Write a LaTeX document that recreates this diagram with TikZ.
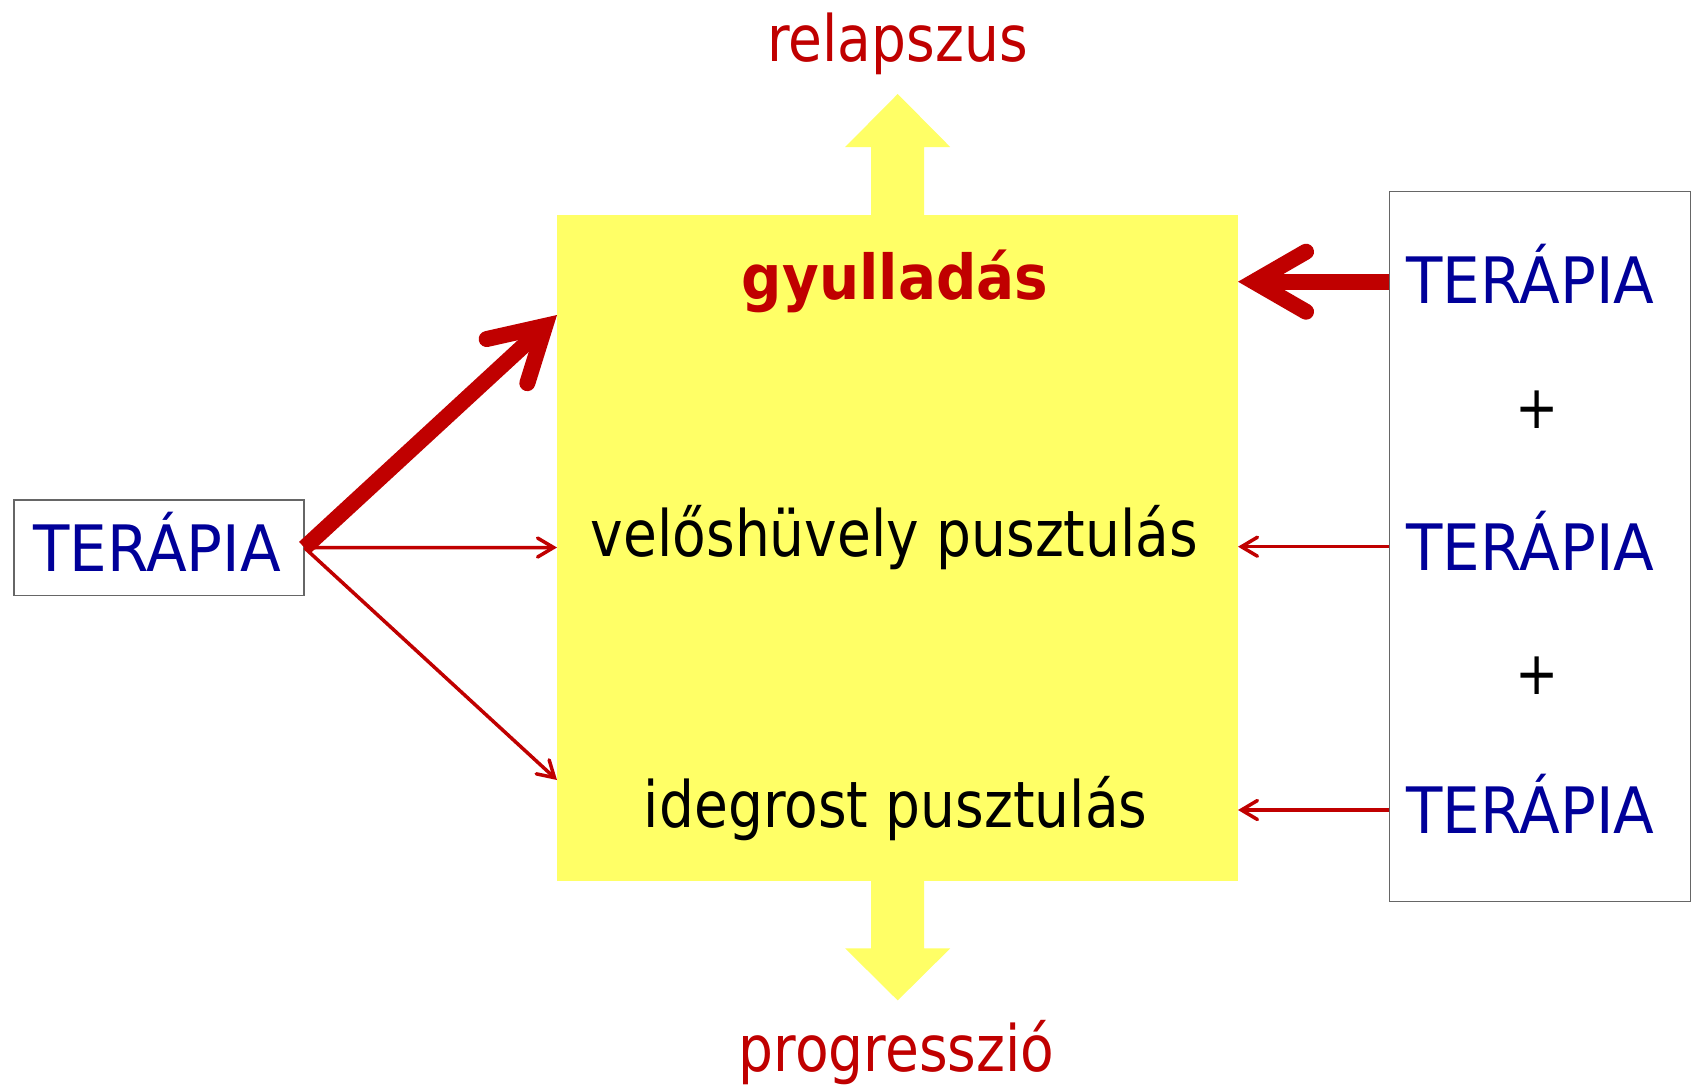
\documentclass[tikz,border=0pt]{standalone}
\usepackage{fontspec}
\setmainfont{DejaVu Sans}
\newfontfamily\lowfont[FakeStretch=0.86]{DejaVu Sans}
\newfontfamily\capfont[FakeStretch=0.93]{DejaVu Sans}
\newfontfamily\boldfont[FakeStretch=0.91]{DejaVu Sans}
\usetikzlibrary{arrows.meta}
\definecolor{dred}{HTML}{C00000}
\definecolor{dblue}{HTML}{000099}
\definecolor{yel}{HTML}{FFFF66}
\begin{document}
\begin{tikzpicture}[x=1bp,y=-1bp,
  lowtxt/.style={font=\lowfont\fontsize{64bp}{70bp}\selectfont, inner sep=0, anchor=base},
  captxt/.style={font=\capfont\fontsize{64bp}{70bp}\selectfont, text=dblue, inner sep=0, anchor=base},
  boldtxt/.style={font=\boldfont\bfseries\fontsize{62bp}{68bp}\selectfont, text=dred, inner sep=0, anchor=base},
  plustxt/.style={font=\lowfont\fontsize{60bp}{66bp}\selectfont, inner sep=0, anchor=center},
  frame/.style={draw=black!60, line width=1.2bp, inner sep=0, anchor=north west},
  thickarr/.style={draw=dred, line width=16bp, -{Straight Barb[length=52bp,width=60bp,line cap=round]}},
  thinarr/.style={draw=dred, line width=3.5bp, -{Straight Barb[length=16bp,width=19bp,line cap=round]}},
]
\useasboundingbox (0,0) rectangle (1691,1088);
\fill[white] (0,0) rectangle (1691,1088);

% main yellow box
\node[fill=yel, inner sep=0, minimum width=681bp, minimum height=666bp, anchor=north west] (Y) at (557,215) {};
% side boxes
\node[frame, minimum width=290bp, minimum height=95.7bp] (L) at (13.3,499.3) {};
\node[frame, minimum width=301bp, minimum height=709.6bp] (R) at (1389,191) {};

% yellow fat arrows
\fill[yel] (Y.north) ++(-26.5,1) -- ++(0,-69) -- ++(-26,0) -- ++(52.5,-53) -- ++(52.5,53) -- ++(-26,0) -- ++(0,69) -- cycle;
\fill[yel] (Y.south) ++(-26.5,-1) -- ++(0,68) -- ++(-26,0) -- ++(52.5,52) -- ++(52.5,-52) -- ++(-26,0) -- ++(0,-68) -- cycle;

% texts
\node[lowtxt, text=dred] (rel) at (897.5,61.7) {relapszus};
\node[boldtxt] (gy) at (895,299.5) {gyulladás};
\node[lowtxt] (vel) at (894.5,556.5) {velőshüvely pusztulás};
\node[lowtxt] (ide) at (895.7,827) {idegrost pusztulás};
\node[lowtxt, text=dred] (prog) at (896.5,1071.7) {progresszió};
\node[captxt] (Lt) at (157,571.7) {TERÁPIA};
\node[captxt] (R1) at (1530.4,303.3) {TERÁPIA};
\node[captxt] (R2) at (1530.4,570) {TERÁPIA};
\node[captxt] (R3) at (1530.4,833.5) {TERÁPIA};
\node[plustxt] (p1) at (1537,410) {+};
\node[plustxt] (p2) at (1537,676) {+};

% connector end points
\coordinate (tA) at (557,315);
\coordinate (tB) at (557,547.5);
\coordinate (tC) at (557,780);
\coordinate (sR1) at (1389,281.7);
\coordinate (eR1) at (1238,281.7);
\coordinate (sR2) at (1389,546.7);
\coordinate (eR2) at (1238,546.7);
\coordinate (sR3) at (1389,810);
\coordinate (eR3) at (1238,810);

% connectors
\draw[thinarr] (L.east) -- (tB);
\draw[thinarr] (L.east) -- (tC);
\draw[thickarr] (L.east) -- (tA);
\draw[thickarr] (sR1) -- (eR1);
\draw[thinarr] (sR2) -- (eR2);
\draw[thinarr] (sR3) -- (eR3);
\end{tikzpicture}
\end{document}
